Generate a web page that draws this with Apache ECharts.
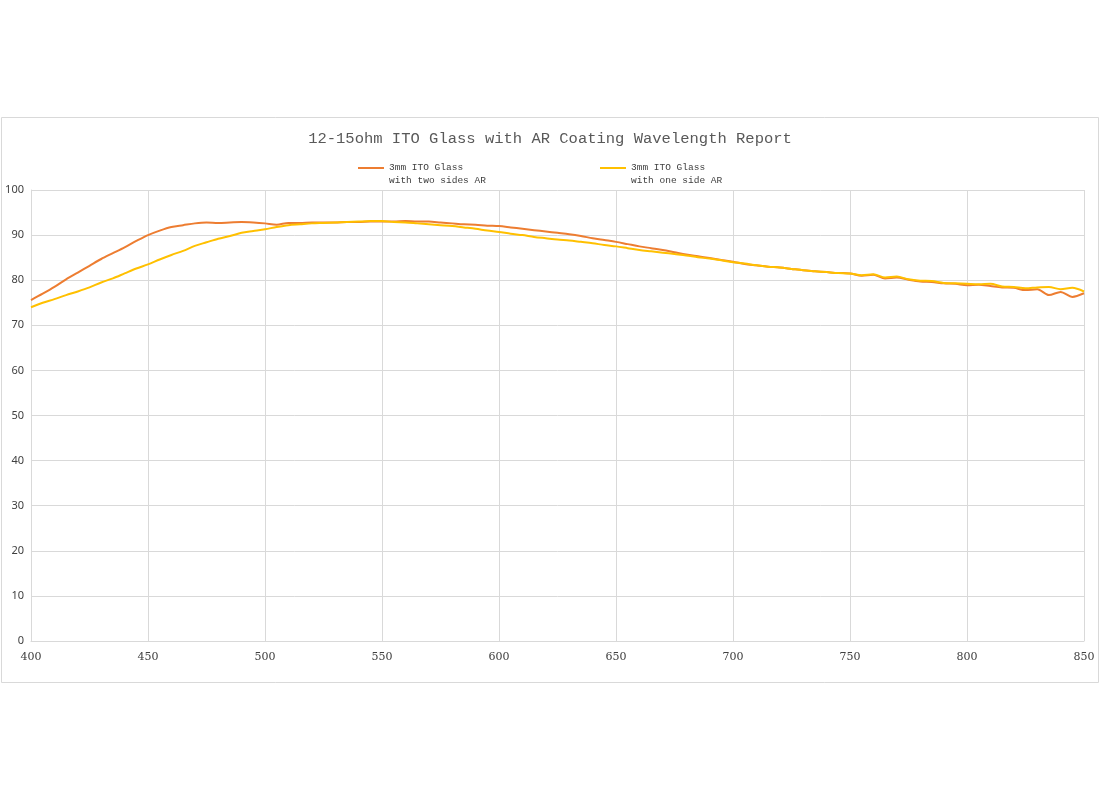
<!DOCTYPE html>
<html>
<head>
<meta charset="utf-8">
<script src="https://cdn.jsdelivr.net/npm/echarts@6/dist/echarts.min.js"></script>
<style>html,body{margin:0;padding:0;background:#fff;}#c{width:1100px;height:800px;}</style>
</head>
<body>
<div id="c"></div>
<script>
const wavelengths = [];
for (let w = 400; w <= 850; w += 5) wavelengths.push(w);
const xTicks = [400, 450, 500, 550, 600, 650, 700, 750, 800, 850];
const seriesNames = ['3mm ITO Glass\nwith two sides AR', '3mm ITO Glass\nwith one side AR'];
const twoSidesAR = [
  75.6, 77.0, 78.5, 80.2, 81.7, 83.2, 84.7, 86.0, 87.3, 88.7,
  90.0, 91.0, 91.8, 92.2, 92.6, 92.8, 92.7, 92.8, 92.9, 92.8,
  92.6, 92.3, 92.7, 92.7, 92.8, 92.8, 92.8, 92.9, 92.9, 93.0,
  93.0, 93.0, 93.1, 93.0, 93.0, 92.8, 92.6, 92.4, 92.3, 92.1,
  92.0, 91.7, 91.4, 91.1, 90.8, 90.5, 90.2, 89.8, 89.3, 88.9,
  88.5, 88.0, 87.5, 87.1, 86.7, 86.2, 85.7, 85.3, 84.9, 84.5,
  84.1, 83.6, 83.3, 83.0, 82.8, 82.5, 82.2, 82.0, 81.8, 81.6,
  81.5, 81.0, 81.2, 80.4, 80.6, 80.1, 79.7, 79.6, 79.3, 79.2,
  78.9, 79.0, 78.7, 78.4, 78.3, 77.8, 78.0, 76.7, 77.4, 76.3,
  77.1
];
const oneSideAR = [
  74.0, 75.0, 75.8, 76.7, 77.5, 78.4, 79.5, 80.4, 81.5, 82.6,
  83.5, 84.6, 85.6, 86.5, 87.6, 88.4, 89.2, 89.8, 90.5, 90.9,
  91.3, 91.8, 92.2, 92.4, 92.6, 92.7, 92.8, 92.9, 93.0, 93.1,
  93.1, 92.9, 92.8, 92.6, 92.4, 92.2, 92.0, 91.7, 91.4, 91.0,
  90.7, 90.3, 90.0, 89.6, 89.3, 89.0, 88.8, 88.5, 88.2, 87.8,
  87.5, 87.1, 86.7, 86.4, 86.1, 85.8, 85.5, 85.1, 84.8, 84.4,
  84.0, 83.7, 83.3, 83.0, 82.8, 82.5, 82.2, 82.0, 81.8, 81.6,
  81.5, 81.1, 81.3, 80.6, 80.8, 80.2, 79.9, 79.8, 79.4, 79.3,
  79.2, 79.1, 79.2, 78.6, 78.5, 78.2, 78.4, 78.5, 78.0, 78.3,
  77.5
];
const titleText = '12-15ohm ITO Glass with AR Coating Wavelength Report';

const chart = echarts.init(document.getElementById('c'), null, {renderer: 'canvas'});
const legendText = {fontFamily: 'Liberation Mono', fontSize: 9.5, color: '#404040', lineHeight: 13};
const legendIcon = 'path://M0,0h26v2h-26z M0,14h0.01v0.01h-0.01z';
chart.setOption({
  animation: false,
  backgroundColor: '#ffffff',
  graphic: [{
    type: 'rect', silent: true,
    shape: {x: 1.5, y: 117.5, width: 1097, height: 565},
    style: {fill: 'none', stroke: '#d9d9d9', lineWidth: 1}
  }],
  title: {
    text: titleText, left: 'center', top: 126,
    textStyle: {fontFamily: 'Liberation Mono', fontSize: 15.5, fontWeight: 'normal', color: '#595959'}
  },
  legend: [
    {data: [seriesNames[0]], left: 358, top: 161, padding: 0, itemWidth: 26, itemHeight: 14, icon: legendIcon, textStyle: legendText, itemGap: 0},
    {data: [seriesNames[1]], left: 600, top: 161, padding: 0, itemWidth: 26, itemHeight: 14, icon: legendIcon, textStyle: legendText, itemGap: 0}
  ],
  grid: {left: 31, right: 16, top: 190, bottom: 159, containLabel: false},
  xAxis: {
    type: 'value', min: 400, max: 850, interval: 50,
    axisLine: {show: true, lineStyle: {color: '#d9d9d9', width: 1}},
    axisTick: {show: false},
    axisLabel: {margin: 11, fontFamily: 'DejaVu Serif', fontSize: 11, color: '#404040',
      formatter: v => xTicks.includes(v) ? String(v) : ''},
    splitLine: {show: true, lineStyle: {color: '#d9d9d9', width: 1}}
  },
  yAxis: {
    type: 'value', min: 0, max: 100, interval: 10,
    axisLine: {show: true, lineStyle: {color: '#d9d9d9', width: 1}},
    axisTick: {show: false},
    axisLabel: {margin: 7, fontFamily: 'Noto Sans', fontSize: 11, color: '#404040'},
    splitLine: {show: true, lineStyle: {color: '#d9d9d9', width: 1}}
  },
  series: [
    {
      name: seriesNames[0], type: 'line', showSymbol: false, smooth: 0.3,
      data: wavelengths.map((w, i) => [w, twoSidesAR[i]]),
      lineStyle: {color: '#ED7D31', width: 2}, itemStyle: {color: '#ED7D31'}, z: 2
    },
    {
      name: seriesNames[1], type: 'line', showSymbol: false, smooth: 0.3,
      data: wavelengths.map((w, i) => [w, oneSideAR[i]]),
      lineStyle: {color: '#FFC000', width: 2}, itemStyle: {color: '#FFC000'}, z: 3
    }
  ]
});
</script>
</body>
</html>
